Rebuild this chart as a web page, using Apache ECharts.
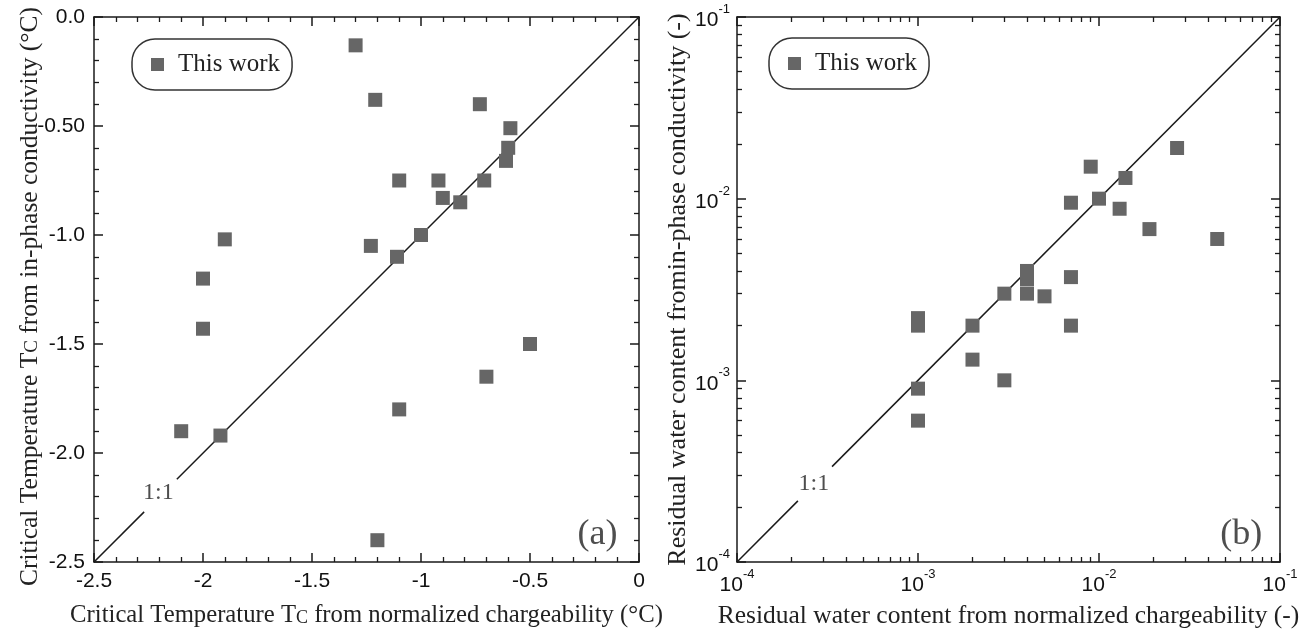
<!DOCTYPE html>
<html>
<head>
<meta charset="utf-8">
<script src="https://cdn.jsdelivr.net/npm/echarts@6/dist/echarts.min.js"></script>
<style>html,body{margin:0;padding:0;background:#fff}#c{width:1312px;height:635px}</style>
</head>
<body>
<div id="c"></div>
<script>
// ---- Panel (a): critical temperature Tc (°C) ----
const tcFromChargeability = [-1.30,-1.21,-0.73,-0.59,-0.60,-0.61,-1.10,-0.92,-0.71,-0.90,-0.82,-1.00,-1.90,-1.23,-1.11,-2.00,-2.00,-0.50,-0.70,-1.10,-2.10,-1.92,-1.20];
const tcFromInPhase       = [-0.13,-0.38,-0.40,-0.51,-0.60,-0.66,-0.75,-0.75,-0.75,-0.83,-0.85,-1.00,-1.02,-1.05,-1.10,-1.20,-1.43,-1.50,-1.65,-1.80,-1.90,-1.92,-2.40];
const tcXTickValues = [-2.5,-2,-1.5,-1,-0.5,0];
const tcXTickLabels = ['-2.5','-2','-1.5','-1','-0.5','0'];
const tcYTickValues = [0,-0.5,-1,-1.5,-2,-2.5];
const tcYTickLabels = ['0.0','-0.50','-1.0','-1.5','-2.0','-2.5'];
const tcOneToOneLow  = [[-2.5,-2.5],[-2.27,-2.27]];
const tcOneToOneHigh = [[-2.12,-2.12],[0,0]];
const tcOneToOneLabel = [[-2.205,-2.18]];
const tcPanelLabel = [[-0.19,-2.375]];

// ---- Panel (b): residual water content (-) ----
const rwFromChargeability = [0.027,0.009,0.014,0.007,0.010,0.013,0.019,0.045,0.007,0.004,0.004,0.004,0.003,0.005,0.007,0.002,0.002,0.003,0.001,0.001,0.001,0.001];
const rwFromInPhase       = [0.019,0.015,0.013,0.0095,0.010,0.0088,0.0068,0.0060,0.0037,0.0040,0.0036,0.0030,0.0030,0.0029,0.0020,0.0020,0.0013,0.0010,0.0022,0.0020,0.0009,0.0006];
const rwDecades = [1e-4,1e-3,1e-2,1e-1];
const rwOneToOneLow  = [[1e-4,1e-4],[2.17e-4,2.17e-4]];
const rwOneToOneHigh = [[3.35e-4,3.35e-4],[0.1,0.1]];
const rwOneToOneLabel = [[2.66e-4,2.69e-4]];
const rwPanelLabel = [[0.061,1.41e-4]];

const seriesName = 'This work';

const INK = '#1a1a1a';
const MARK = '#666666';
const SERIF = 'Liberation Serif';
const SANS = 'Liberation Sans';

function zip(a,b){return a.map((v,i)=>[v,b[i]]);}
const rwMinor = [];
for (let d = 0; d < rwDecades.length - 1; d++) {
  for (let m = 2; m <= 9; m++) rwMinor.push(+(m * rwDecades[d]).toPrecision(3));
}

function lookup(vals, labels){
  return function(v){
    for (let i=0;i<vals.length;i++) if (Math.abs(vals[i]-v)<1e-9) return labels[i];
    return '';
  };
}

const lineStyleAxis = {color: INK, width: 1.5};

function linAxis(dim, grid, pos, showLabel, formatter){
  return {
    type: 'value', gridIndex: grid, position: pos,
    min: -2.5, max: 0, interval: 0.5,
    nameMoveOverlap: false,
    axisLine: {show: true, onZero: false, lineStyle: lineStyleAxis},
    axisTick: {show: true, inside: true, length: 9, lineStyle: lineStyleAxis},
    minorTick: {show: true, splitNumber: 5, length: 5, lineStyle: {color: INK, width: 1.3}},
    splitLine: {show: false}, minorSplitLine: {show: false},
    axisLabel: {show: showLabel, formatter: formatter, fontFamily: SANS, fontSize: 21, color: '#111', margin: 9},
  };
}

function logFmt(v){
  const e = Math.round(Math.log10(v));
  return '{b|10}{s|' + e + '}';
}
const logRich = {
  b: {fontFamily: SANS, fontSize: 21, color: '#111', lineHeight: 28, verticalAlign: 'bottom'},
  s: {fontFamily: SANS, fontSize: 13, color: '#111', lineHeight: 14, verticalAlign: 'top'}
};

function logAxis(dim, grid, pos, major, showLabel){
  const isX = dim === 'x';
  const ax = {
    type: 'log', logBase: 10, gridIndex: grid, position: pos,
    min: 1e-4, max: 0.1,
    nameMoveOverlap: false,
    axisLine: {show: major, onZero: false, lineStyle: lineStyleAxis},
    splitLine: {show: false},
    axisLabel: {show: showLabel, formatter: logFmt, rich: logRich, margin: isX ? 6 : 7},
  };
  if (major) {
    ax.axisTick = {show: true, inside: true, length: 9, lineStyle: lineStyleAxis};
  } else {
    ax.axisTick = {show: true, inside: true, length: 5, customValues: rwMinor, lineStyle: {color: INK, width: 1.3}};
    ax.axisLabel = {show: false};
  }
  return ax;
}

function nameStyle(size, pad){
  return {
    fontFamily: SERIF, fontSize: size, color: '#222', padding: pad || 0,
    rich: {c: {fontFamily: SERIF, fontSize: Math.round(size*0.73), color: '#222', verticalAlign: 'bottom', lineHeight: size, padding: [0,0,1,0]}}
  };
}

const xA = [
  Object.assign(linAxis('x',0,'bottom',true,lookup(tcXTickValues,tcXTickLabels)), {
    name: 'Critical Temperature T{c|C} from normalized chargeability (°C)', nameLocation: 'middle', nameGap: 41, nameTextStyle: nameStyle(24.7)}),
  linAxis('x',0,'top',false),
  Object.assign(logAxis('x',1,'bottom',true,true), {
    name: 'Residual water content from normalized chargeability (-)', nameLocation: 'middle', nameGap: 41, nameTextStyle: nameStyle(25.5)}),
  logAxis('x',1,'bottom',false,false),
  logAxis('x',1,'top',true,false),
  logAxis('x',1,'top',false,false)
];
const yA = [
  Object.assign(linAxis('y',0,'left',true,lookup(tcYTickValues,tcYTickLabels)), {
    name: 'Critical Temperature T{c|C} from in-phase conductivity (°C)', nameLocation: 'middle', nameGap: 51, nameTextStyle: nameStyle(25.5, [0,14,0,0])}),
  linAxis('y',0,'right',false),
  Object.assign(logAxis('y',1,'left',true,true), {
    name: 'Residual water content fromin-phase conductivity (-)', nameLocation: 'middle', nameGap: 46, nameTextStyle: nameStyle(26)}),
  logAxis('y',1,'left',false,false),
  logAxis('y',1,'right',true,false),
  logAxis('y',1,'right',false,false)
];

function legendFor(left, top){
  return {
    data: [seriesName], left: left, top: top, orient: 'horizontal', selectedMode: false,
    icon: 'rect', itemWidth: 13, itemHeight: 13,
    borderColor: '#333', borderWidth: 1.5, borderRadius: 23,
    padding: [13, 12, 13, 19],
    itemStyle: {color: MARK},
    textStyle: {fontFamily: SERIF, fontSize: 25, color: '#222', padding: [0,0,0,9]}
  };
}

function diag(data, xi, yi){
  return {type: 'line', xAxisIndex: xi, yAxisIndex: yi, data: data, symbol: 'none', silent: true,
    lineStyle: {color: INK, width: 1.5}, z: 1, animation: false};
}
function textMark(data, xi, yi, text, size){
  return {type: 'scatter', xAxisIndex: xi, yAxisIndex: yi, data: data, symbolSize: 0, silent: true, z: 3,
    label: {show: true, position: 'inside', formatter: text, fontFamily: SERIF, fontSize: size, color: '#222'}};
}

const option = {
  backgroundColor: '#fff',
  animation: false,
  grid: [
    {left: 94, top: 17, width: 545, height: 545, containLabel: false, outerBoundsMode: 'none'},
    {left: 737, top: 17, width: 543, height: 545, containLabel: false, outerBoundsMode: 'none'}
  ],
  legend: [legendFor(132, 39), legendFor(769, 38)],
  xAxis: xA,
  yAxis: yA,
  series: [
    diag(tcOneToOneLow, 0, 0),
    diag(tcOneToOneHigh, 0, 0),
    {name: seriesName, type: 'scatter', xAxisIndex: 0, yAxisIndex: 0, symbol: 'rect', symbolSize: 14,
      itemStyle: {color: MARK, opacity: 1}, data: zip(tcFromChargeability, tcFromInPhase), z: 2},
    textMark(tcOneToOneLabel, 0, 0, '1:1', 24),
    textMark(tcPanelLabel, 0, 0, '(a)', 36),
    diag(rwOneToOneLow, 2, 2),
    diag(rwOneToOneHigh, 2, 2),
    {name: seriesName, type: 'scatter', xAxisIndex: 2, yAxisIndex: 2, symbol: 'rect', symbolSize: 14,
      itemStyle: {color: MARK, opacity: 1}, data: zip(rwFromChargeability, rwFromInPhase), z: 2},
    textMark(rwOneToOneLabel, 2, 2, '1:1', 24),
    textMark(rwPanelLabel, 2, 2, '(b)', 36)
  ]
};

const chart = echarts.init(document.getElementById('c'), null, {renderer: 'canvas'});
chart.setOption(option);
</script>
</body>
</html>
